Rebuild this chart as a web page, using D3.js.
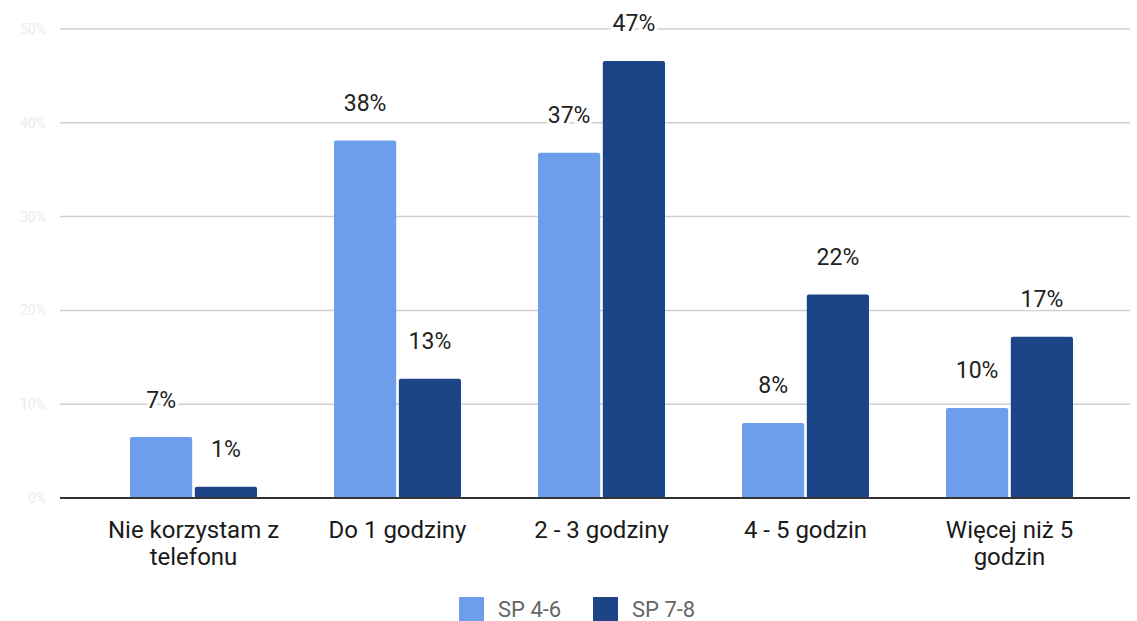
<!DOCTYPE html>
<html>
<head>
<meta charset="utf-8">
<script src="https://cdn.jsdelivr.net/npm/d3@7"></script>
<style>
  body { margin: 0; background: #fff; }
  svg { font-family: Roboto, "Noto Sans", sans-serif; }
</style>
</head>
<body>
<div id="chart"></div>
<script>
// chart data
const categories = [["Nie korzystam z", "telefonu"], ["Do 1 godziny"], ["2 - 3 godziny"], ["4 - 5 godzin"], ["Więcej niż 5", "godzin"]];
const seriesNames = ["SP 4-6", "SP 7-8"];
const sp46 = [6.5, 38.1, 36.8, 8.0, 9.6];
const sp78 = [1.2, 12.7, 46.6, 21.7, 17.2];
const labels46 = ["7%", "38%", "37%", "8%", "10%"];
const labels78 = ["1%", "13%", "47%", "22%", "17%"];
const yTicks = [0, 10, 20, 30, 40, 50];

const width = 1137, height = 621;
const margin = {top: 29, right: 7, bottom: 123, left: 60};
const colors = ["#6d9eeb", "#1c4587"];

const svg = d3.select("#chart")
  .append("svg")
  .attr("width", width)
  .attr("height", height);

// scales
let yScale = d3.scaleLinear()
  .domain([0, 50])
  .range([height - margin.bottom, margin.top]);

let xScale = d3.scaleBand()
  .domain(d3.range(categories.length))
  .range([91.5, 1111.5])
  .padding(0);

let inner = d3.scaleBand()
  .domain([0, 1])
  .range([38.5, 165.5])
  .paddingInner(0.04);

// gridlines + faint y labels
svg.append("g")
  .selectAll("line")
  .data(yTicks.filter(t => t > 0))
  .enter()
  .append("line")
    .attr("x1", margin.left)
    .attr("x2", width - margin.right)
    .attr("y1", d => yScale(d))
    .attr("y2", d => yScale(d))
    .attr("stroke", "#d0d0d0")
    .attr("stroke-width", 1.5);

svg.append("g")
  .selectAll("text")
  .data(yTicks)
  .enter()
  .append("text")
    .attr("x", 46)
    .attr("y", d => yScale(d))
    .attr("dy", "0.35em")
    .attr("text-anchor", "end")
    .attr("font-size", 14)
    .attr("fill", "#ececec")
    .text(d => d + "%");

// bars
const rows = categories.map((c, i) => [
  {i: i, s: 0, v: sp46[i], lab: labels46[i]},
  {i: i, s: 1, v: sp78[i], lab: labels78[i]}
]).flat();

svg.append("g")
  .selectAll("rect")
  .data(rows)
  .enter()
  .append("rect")
    .attr("x", d => xScale(d.i) + inner(d.s))
    .attr("y", d => yScale(d.v))
    .attr("width", inner.bandwidth())
    .attr("height", d => yScale(0) - yScale(d.v))
    .attr("rx", 2)
    .attr("fill", d => colors[d.s]);

// baseline
svg.append("line")
  .attr("x1", margin.left)
  .attr("x2", width - margin.right)
  .attr("y1", yScale(0))
  .attr("y2", yScale(0))
  .attr("stroke", "#333")
  .attr("stroke-width", 2);

// value labels with white halo
svg.append("g")
  .selectAll("text")
  .data(rows)
  .enter()
  .append("text")
    .attr("x", d => xScale(d.i) + inner(d.s) + inner.bandwidth() / 2)
    .attr("y", d => yScale(d.v) - 29.5)
    .attr("text-anchor", "middle")
    .attr("font-size", 23)
    .attr("fill", "#222")
    .attr("stroke", "#fff")
    .attr("stroke-width", 6)
    .attr("paint-order", "stroke")
    .text(d => d.lab);

// category labels
const catG = svg.append("g")
  .selectAll("text")
  .data(categories)
  .enter()
  .append("text")
    .attr("x", (d, i) => xScale(i) + xScale.bandwidth() / 2)
    .attr("y", 538)
    .attr("text-anchor", "middle")
    .attr("font-size", 24)
    .attr("fill", "#1a1a1a");

catG.selectAll("tspan")
  .data(d => d)
  .enter()
  .append("tspan")
    .attr("x", function() { return this.parentNode.getAttribute("x"); })
    .attr("dy", (d, j) => j === 0 ? 0 : 27)
    .text(d => d);

// legend
const legendX = [459, 593];
const leg = svg.append("g")
  .selectAll("g")
  .data(seriesNames)
  .enter()
  .append("g")
    .attr("transform", (d, i) => `translate(${legendX[i]}, 597)`);

leg.append("rect")
  .attr("width", 25)
  .attr("height", 25)
  .attr("fill", (d, i) => colors[i]);

leg.append("text")
  .attr("x", 39)
  .attr("y", 20)
  .attr("font-size", 22)
  .attr("fill", "#666")
  .text(d => d);
</script>
</body>
</html>
